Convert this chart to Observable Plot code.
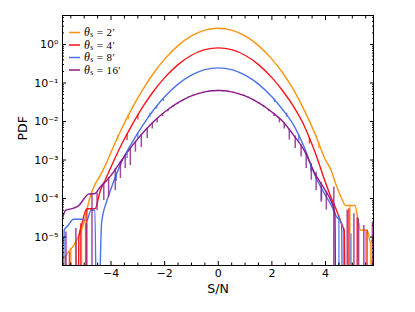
<!DOCTYPE html>
<html><head><meta charset="utf-8">
<script src="https://cdn.jsdelivr.net/npm/d3@7"></script>
<script src="https://cdn.jsdelivr.net/npm/@observablehq/plot@0.6"></script>
<style>
body{margin:0;background:#fff;}
#wrap{width:415px;height:312px;}
</style></head><body><div id="wrap"></div>
<script>
// ---- data ----
const seriesNames = ["2′", "4′", "8′", "16′"];
const colors = ["#ff930f", "#f7141a", "#4b73e6", "#8b1c8b"];

const xDomain = [-5.81, 5.79];
const yDomain = [1.82e-6, 5.67];

// smooth (mean) PDF curves
const orangeX = [-5.8,-5.6,-5.4,-5.2,-5.0,-4.8,-4.6,-4.4,-4.2,-4.0,-3.6,-3.2,-2.8,-2.4,-2.0,-1.5,-1.0,-0.5,0,0.5,1.0,1.5,2.0,2.4,2.8,3.2,3.6,4.0,4.2,4.4,4.6,4.75,5.1,5.2,5.3,5.55,5.68,5.8];
const orangeY = [2.6e-6,4.0e-6,6.0e-6,1.1e-5,2.5e-5,1.0e-4,2.3e-4,4.0e-4,7.6e-4,1.6e-3,6.6e-3,0.0233,0.0706,0.185,0.417,0.936,1.67,2.36,2.65,2.36,1.67,0.936,0.417,0.185,0.068,0.020,5.0e-3,1.0e-3,5.6e-4,2.2e-4,1.0e-4,6.6e-5,6.6e-5,3.2e-5,1.5e-5,1.5e-5,7.4e-6,1.0e-5];

const redX = [-5.8,-5.25,-5.2,-5.1,-4.9,-4.6,-4.4,-4.2,-4.0,-3.6,-3.2,-2.8,-2.4,-2.0,-1.5,-1.0,-0.5,0,0.5,1.0,1.5,2.0,2.4,2.8,3.2,3.6,4.0,4.2,4.4,4.6,4.7,4.75,5.8];
const redY = [1e-9,1e-9,1.0e-5,2.0e-5,5.4e-5,5.4e-5,1.6e-4,3.2e-4,6.6e-4,2.6e-3,8.6e-3,0.025,0.063,0.138,0.301,0.526,0.734,0.82,0.734,0.526,0.301,0.138,0.063,0.025,7.9e-3,1.66e-3,2.6e-4,1.1e-4,5.2e-5,2.2e-5,1.4e-5,1e-9,1e-9];

const blueX = [-5.8,-5.75,-5.6,-5.4,-5.1,-4.9,-4.75,-4.6,-4.52,-4.35,-4.15,-4.0,-3.6,-3.2,-2.8,-2.4,-2.0,-1.5,-1.0,-0.5,0,0.5,1.0,1.5,2.0,2.4,2.8,3.2,3.6,4.0,4.2,4.4,4.6,4.65,5.8];
const blueY = [1e-9,1.5e-5,2.0e-5,2.9e-5,2.9e-5,2.7e-5,5.0e-5,5.0e-5,1e-9,2.4e-5,8.9e-5,1.8e-4,9.1e-4,2.95e-3,8.3e-3,0.0205,0.044,0.0938,0.161,0.223,0.248,0.223,0.161,0.0938,0.044,0.0205,8.3e-3,2.2e-3,4.1e-4,1.2e-4,7.0e-5,3.5e-5,2.2e-5,1e-9,1e-9];

const purpleX = [-5.81,-5.7,-5.4,-5.2,-5.0,-4.85,-4.6,-4.4,-4.2,-4.0,-3.6,-3.2,-2.8,-2.4,-2.0,-1.5,-1.0,-0.5,0,0.5,1.0,1.5,2.0,2.4,2.8,3.2,3.6,4.0,4.2,4.35,4.4,5.8];
const purpleY = [3.0e-5,4.9e-5,5.6e-5,6.6e-5,1.0e-4,1.3e-4,1.35e-4,2.0e-4,2.75e-4,4.0e-4,1.0e-3,2.4e-3,5.2e-3,0.0101,0.0177,0.031,0.0463,0.0589,0.0638,0.0589,0.0463,0.031,0.0177,0.0101,4.5e-3,1.8e-3,4.5e-4,1.6e-4,8.9e-5,4.0e-5,1e-9,1e-9];

// single-realisation histogram spikes / dips (bottom 0 = empty bin)
const orangeSpikeX = [-5.7,-5.5,-5.3,-5.1,-4.95,-3.75,-3.35,3.75,4.91,5.25,5.5,5.68];
const orangeSpikeTop = [3.2e-6,5e-6,8e-6,1.8e-5,4e-5,4.3e-3,0.015,2.8e-3,6.6e-5,2.2e-5,1.5e-5,7.4e-6];
const orangeSpikeBot = [0,0,0,0,0,3.3e-3,0.011,2.0e-3,0,0,0,0];

const redSpikeX = [-5.55,-5.13,-4.9,-3.4,-3.0,3.4,4.69,4.87,5.18,5.55,5.75];
const redSpikeTop = [4e-6,2.2e-5,5.4e-5,4.6e-3,0.0146,3.8e-3,1.6e-5,5.4e-5,3.2e-5,1.5e-5,2.5e-6];
const redSpikeBot = [0,0,0,3.2e-3,0.011,2.6e-3,0,0,0,0,0];

const blueSpikeX = [-3.8,-3.4,-3.0,-2.55,-2.3,-2.05,2.1,2.55,3.0,3.45,3.85,4.5,4.95];
const blueSpikeTop = [4.6e-4,1.7e-3,4.9e-3,0.0165,0.026,0.04,0.038,0.0165,4.4e-3,8e-4,1.7e-4,3.5e-5,1.2e-5];
const blueSpikeBot = [2.8e-4,1.1e-3,3.4e-3,0.013,0.021,0.033,0.031,0.013,3.0e-3,5e-4,9e-5,0,0];

const purpleSpikeX = [-5.68,-5.31,-4.93,-4.71,-4.52,-4.27,-4.09,-3.84,-3.65,-3.47,-3.28,-3.09,-2.87,-2.65,-2.46,-2.28,-2.08,-1.88,-1.69,-1.5,-1.31,-1.12,-0.94,-0.75,-0.56,-0.37,-0.19,0,0.19,0.37,0.56,0.75,0.94,1.12,1.31,1.5,1.69,1.88,2.08,2.28,2.46,2.65,2.87,3.09,3.28,3.47,3.65,3.84,4.03,4.31,4.81,5.06,5.22,5.43,5.75];
const purpleSpikeTop = [1.35e-5,1.66e-5,2.2e-5,1.3e-4,1.4e-4,2.4e-4,3.5e-4,6e-4,8.9e-4,1.3e-3,1.95e-3,2.9e-3,4.6e-3,6.7e-3,9.2e-3,0.0121,0.016,0.0206,0.0256,0.031,0.0375,0.0435,0.049,0.054,0.0585,0.062,0.064,0.065,0.064,0.062,0.0585,0.054,0.049,0.0435,0.0375,0.031,0.0256,0.0206,0.016,0.0121,9.2e-3,6.3e-3,4.2e-3,2.5e-3,1.5e-3,8e-4,4.8e-4,2.6e-4,1.5e-4,2e-4,5e-5,4e-5,3e-5,2e-5,2.5e-5];
const purpleSpikeBot = [0,0,0,0,4.9e-5,8.9e-5,1.07e-4,1.6e-4,3.3e-4,6e-4,7.2e-4,1.6e-3,2.1e-3,3.6e-3,6.4e-3,9.2e-3,0.0135,0.018,0.023,0.0285,0.0345,0.040,0.045,0.050,0.054,0.057,0.059,0.060,0.059,0.057,0.054,0.050,0.045,0.040,0.0345,0.0285,0.023,0.018,0.0135,9.2e-3,6.4e-3,3.3e-3,2e-3,1.2e-3,6e-4,3e-4,1.6e-4,8e-5,5e-5,0,0,0,0,0,0];

// ticks
const xMajor = [-4, -2, 0, 2, 4];
const xMinor = [-5.5,-5,-4.5,-3.5,-3,-2.5,-1.5,-1,-0.5,0.5,1,1.5,2.5,3,3.5,4.5,5,5.5];
const yMajor = [1e-5, 1e-4, 1e-3, 1e-2, 1e-1, 1];
const yMajorLabels = ["10⁻⁵", "10⁻⁴", "10⁻³", "10⁻²", "10⁻¹", "10⁰"];
const yMinorMantissa = [2, 3, 4, 5, 6, 7, 8, 9];
const yMinorExp = [-6, -5, -4, -3, -2, -1, 0];

// ---- build tables ----
const curves = [[orangeX, orangeY], [redX, redY], [blueX, blueY], [purpleX, purpleY]]
  .map(([xs, ys], s) => xs.map((x, i) => ({x, y: ys[i], s})));
const spikes = [[orangeSpikeX, orangeSpikeTop, orangeSpikeBot], [redSpikeX, redSpikeTop, redSpikeBot],
  [blueSpikeX, blueSpikeTop, blueSpikeBot], [purpleSpikeX, purpleSpikeTop, purpleSpikeBot]]
  .map(([xs, ts, bs], s) => xs.map((x, i) => ({x, top: ts[i], bot: bs[i] || 1e-9, s})));
const yMinor = yMinorExp.flatMap(e => yMinorMantissa.map(m => m * Math.pow(10, e)))
  .filter(v => v > yDomain[0] && v < yDomain[1]);
const yLabel = new Map(yMajor.map((v, i) => [v, yMajorLabels[i]]));

const marks = [];
curves.forEach((c, s) => {
  marks.push(Plot.line(c, {x: "x", y: "y", stroke: colors[s], strokeWidth: 1.4, curve: "monotone-x", clip: true}));
});
spikes.forEach((sp, s) => {
  marks.push(Plot.ruleX(sp, {x: "x", y1: "top", y2: "bot", stroke: colors[s], strokeOpacity: 0.8, strokeWidth: 1.5, clip: true}));
});
const noText = () => "";
marks.push(
  Plot.frame({stroke: "black", strokeWidth: 1}),
  Plot.axisX({anchor: "bottom", ticks: xMajor, tickSize: -4, tickPadding: 8, fontSize: 11, label: null, tickFormat: d => d === 0 ? "0" : (d < 0 ? "−" + (-d) : String(d))}),
  Plot.axisX({anchor: "bottom", ticks: xMinor, tickSize: -2.5, label: null, tickFormat: noText}),
  Plot.axisX({anchor: "top", ticks: xMajor, tickSize: -4, label: null, tickFormat: noText}),
  Plot.axisX({anchor: "top", ticks: xMinor, tickSize: -2.5, label: null, tickFormat: noText}),
  Plot.axisY({anchor: "left", ticks: yMajor, tickSize: -4, tickPadding: 8, fontSize: 11, label: null, tickFormat: d => yLabel.get(d)}),
  Plot.axisY({anchor: "left", ticks: yMinor, tickSize: -2, label: null, tickFormat: noText}),
  Plot.axisY({anchor: "right", ticks: yMajor, tickSize: -4, label: null, tickFormat: noText}),
  Plot.axisY({anchor: "right", ticks: yMinor, tickSize: -2, label: null, tickFormat: noText}),
  Plot.text(["S/N"], {text: d => d, frameAnchor: "bottom", dy: 27, fontSize: 12.5}),
  Plot.text(["PDF"], {text: d => d, frameAnchor: "left", dx: -40, rotate: -90, fontSize: 12.5})
);

const chart = Plot.plot({
  width: 415, height: 312,
  marginLeft: 62, marginRight: 42, marginTop: 15, marginBottom: 47,
  x: {domain: xDomain, axis: null},
  y: {type: "log", domain: yDomain, axis: null},
  style: {fontFamily: "DejaVu Sans, sans-serif", fontSize: "11px", background: "white", color: "black"},
  marks
});
document.getElementById("wrap").appendChild(chart);

// legend (inside the frame, top-left)
const lg = d3.select(chart).append("g")
  .attr("font-family", "Liberation Serif, serif").attr("font-size", 11)
  .attr("fill", "black").attr("text-anchor", "start");
seriesNames.forEach((n, i) => {
  const cy = 32.5 + 12.5 * i;
  lg.append("line").attr("x1", 69).attr("x2", 80).attr("y1", cy).attr("y2", cy)
    .attr("stroke", colors[i]).attr("stroke-width", 1.5);
  const t = lg.append("text").attr("x", 84).attr("y", cy + 3.8).attr("text-anchor", "start")
    .attr("letter-spacing", 0.4);
  t.append("tspan").attr("font-style", "italic").attr("font-size", 12).text("θ");
  t.append("tspan").attr("font-size", 7.5).attr("dy", 1).text("s");
  t.append("tspan").attr("dy", -1).text("\u00a0=\u00a0" + n);
});
</script></body></html>
